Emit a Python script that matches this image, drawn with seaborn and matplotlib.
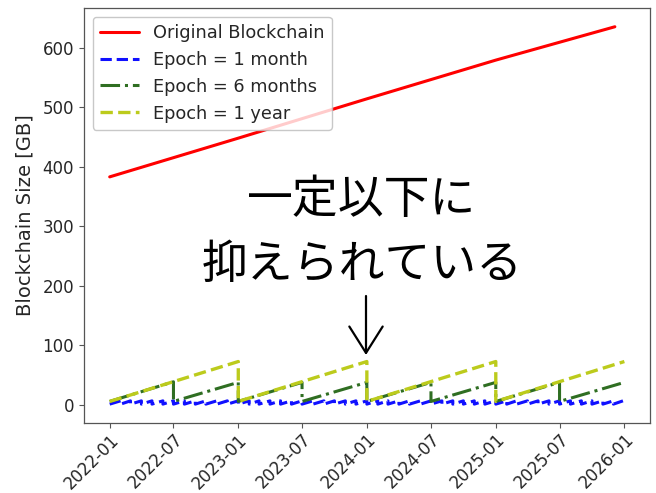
import matplotlib
matplotlib.use("Agg")
import matplotlib.pyplot as plt
import matplotlib.dates as mdates
import numpy as np
import pandas as pd
import seaborn as sns

# ---- data (GB) ----
# Full chain size
orig_dates = ["2022-01-01", "2023-01-01", "2024-01-01", "2025-01-01", "2025-12-05"]
orig_size = [383, 448, 514, 579, 635]

# Pruned chain, 1-year epochs: (date, size) vertices; the repeated date is the reset
year_dates = ["2022-01-01", "2023-01-01", "2023-01-01", "2024-01-01", "2024-01-01",
              "2025-01-01", "2025-01-01", "2026-01-01"]
year_size = [6, 73, 6, 73, 6, 73, 6, 73]

# Pruned chain, 6-month epochs
half_dates = ["2022-01-01", "2022-07-01", "2022-07-01", "2023-01-01", "2023-01-01",
              "2023-07-01", "2023-07-01", "2024-01-01", "2024-01-01", "2024-07-01",
              "2024-07-01", "2025-01-01", "2025-01-01", "2025-07-01", "2025-07-01",
              "2026-01-01"]
half_size = [6, 39, 6, 38, 6, 38, 6, 38, 6, 38, 6, 38, 6, 38, 6, 38]

# Pruned chain, 1-month epochs: size at the start and at the end of every month
month_start = pd.date_range("2022-01-01", "2025-12-01", freq="MS")
month_low = [1.5, 1.5, 1.5, 1.5, 1.5, 1.5, 1.5, 1.5, 1.5, 1.5, 1.5, 1.5,
             1.5, 1.5, 1.5, 1.5, 1.5, 1.5, 1.5, 1.5, 1.5, 1.5, 1.5, 1.5,
             1.5, 1.5, 1.5, 1.5, 1.5, 1.5, 1.5, 1.5, 1.5, 1.5, 1.5, 1.5,
             1.5, 1.5, 1.5, 1.5, 1.5, 1.5, 1.5, 1.5, 1.5, 1.5, 1.5, 1.5]
month_high = [7, 7, 7, 7, 7, 7, 7, 7, 7, 7, 7, 7,
              7, 7, 7, 7, 7, 7, 7, 7, 7, 7, 7, 7,
              7, 7, 7, 7, 7, 7, 7, 7, 7, 7, 7, 7,
              7, 7, 7, 7, 7, 7, 7, 7, 7, 7, 7, 7]
month_last_day = "2025-12-28"

series_labels = ["Original Blockchain", "Epoch = 1 month", "Epoch = 6 months", "Epoch = 1 year"]
note_lines = ["一定以下に", "抑えられている"]

# ---- build the 1-month sawtooth path ----
m_dates, m_size = [], []
ends = list(month_start[1:]) + [pd.Timestamp(month_last_day)]
for s, e, lo, hi in zip(month_start, ends, month_low, month_high):
    m_dates += [s, e]
    m_size += [lo, hi]

sns.set_theme(style="ticks")
plt.rcParams["font.family"] = ["DejaVu Sans"]

fig = plt.figure(figsize=(6.56, 4.93), dpi=100)
ax = fig.add_axes([0.128, 0.142, 0.863, 0.842])

sns.lineplot(x=pd.to_datetime(orig_dates), y=orig_size, ax=ax, color="#ff0000",
             lw=2.2, linestyle="-", estimator=None, sort=False, label=series_labels[0])
sns.lineplot(x=pd.to_datetime(m_dates), y=m_size, ax=ax, color="#1010ff",
             lw=2.2, linestyle="--", estimator=None, sort=False, label=series_labels[1])
sns.lineplot(x=pd.to_datetime(half_dates), y=half_size, ax=ax, color="#2f6e22",
             lw=2.2, linestyle="-.", estimator=None, sort=False, label=series_labels[2])
sns.lineplot(x=pd.to_datetime(year_dates), y=year_size, ax=ax, color="#bccb1c",
             lw=2.4, linestyle="--", estimator=None, sort=False, label=series_labels[3])

ax.xaxis.set_major_locator(mdates.MonthLocator(bymonth=[1, 7]))
ax.xaxis.set_major_formatter(mdates.DateFormatter("%Y-%m"))
ax.set_yticks([0, 100, 200, 300, 400, 500, 600])
ax.tick_params(axis="both", labelsize=12, length=3.5, width=0.8, color="#555555")
ax.tick_params(axis="x", pad=2)
plt.setp(ax.get_xticklabels(), rotation=45, ha="right", rotation_mode="anchor")
ax.set_xlabel("")
ax.set_ylabel("Blockchain Size [GB]", fontsize=14, labelpad=6)
for sp in ax.spines.values():
    sp.set_visible(True)
    sp.set_color("#555555")
    sp.set_linewidth(0.9)

ax.legend(loc="upper left", fontsize=12.8, handlelength=2.2, frameon=True,
          edgecolor="#bbbbbb", fancybox=True)

# Japanese note with arrow pointing to the pruned curves
jp = ["Noto Sans CJK JP", "DejaVu Sans"]
fig.text(362 / 656, 1 - 200 / 493, note_lines[0], family=jp, fontsize=33,
         ha="center", va="center", color="black")
fig.text(362 / 656, 1 - 265 / 493, note_lines[1], family=jp, fontsize=33,
         ha="center", va="center", color="black")
ax.annotate("", xy=(366, 493 - 355), xycoords="figure pixels",
            xytext=(366, 493 - 296), textcoords="figure pixels",
            arrowprops=dict(arrowstyle="->,head_length=0.95,head_width=0.6",
                            mutation_scale=20, lw=1.6, color="black",
                            shrinkA=0, shrinkB=0))

fig.savefig("out.png", dpi=100)
